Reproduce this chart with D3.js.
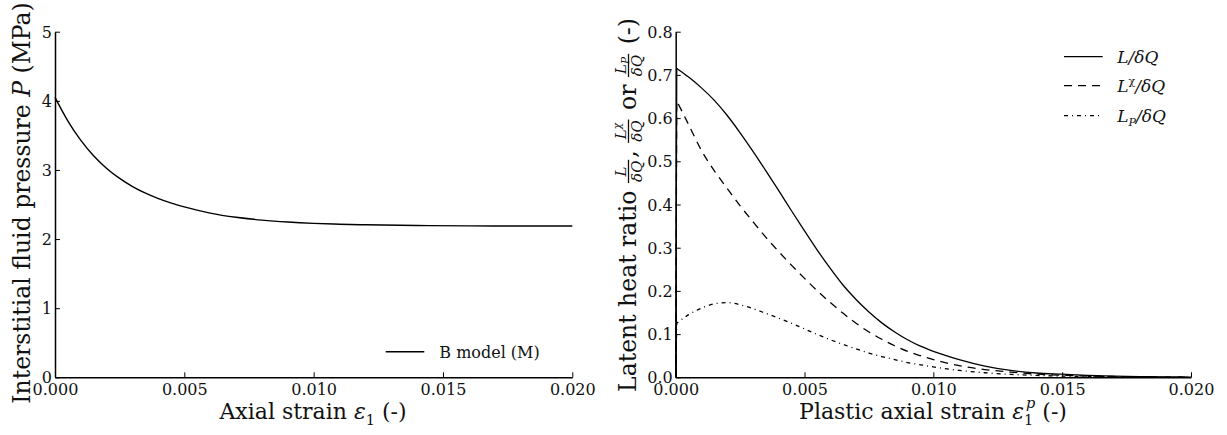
<!DOCTYPE html>
<html><head><meta charset="utf-8">
<script src="https://cdn.jsdelivr.net/npm/d3@7"></script>
<style>body{margin:0;background:#fff} svg{display:block}</style>
</head><body><svg id="c" width="1227" height="435"></svg>
<script>
// ---------- data ----------
const strainP = [0,0.0005,0.001,0.0015,0.002,0.0025,0.003,0.0035,0.004,0.0045,0.005,0.006,0.007,0.008,0.009,0.010,0.011,0.012,0.014,0.016,0.018,0.020];
const pressure = [4.05,3.707,3.427,3.202,3.022,2.877,2.759,2.663,2.584,2.519,2.465,2.376,2.315,2.274,2.246,2.227,2.215,2.206,2.196,2.191,2.189,2.188];

const strainL = [0,0.00004,0.0005,0.001,0.0015,0.002,0.0025,0.003,0.0035,0.004,0.0045,0.005,0.0055,0.006,0.0065,0.007,0.0075,0.008,0.0085,0.009,0.0095,0.010,0.011,0.012,0.013,0.014,0.015,0.016,0.017,0.018,0.019,0.020];
const ratioL   = [0,0.715,0.695,0.670,0.641,0.606,0.566,0.523,0.478,0.432,0.385,0.339,0.294,0.252,0.213,0.180,0.151,0.126,0.105,0.087,0.072,0.060,0.041,0.026,0.016,0.010,0.0072,0.0045,0.0028,0.0017,0.0009,0.0005];
const ratioLchi= [0,0.64,0.585,0.525,0.478,0.437,0.397,0.36,0.324,0.291,0.259,0.229,0.2,0.173,0.148,0.125,0.105,0.088,0.073,0.06,0.05,0.041,0.027,0.018,0.012,0.0075,0.0048,0.003,0.0018,0.0011,0.0006,0.0003];
const ratioLP  = [0,0.125,0.145,0.160,0.170,0.173,0.168,0.159,0.148,0.137,0.125,0.112,0.099,0.087,0.076,0.066,0.056,0.048,0.041,0.034,0.029,0.024,0.016,0.0105,0.0068,0.0044,0.0028,0.0018,0.0011,0.0007,0.0004,0.0002];

const xTicks = [0,0.005,0.010,0.015,0.020];
const pTicks = [0,1,2,3,4,5];
const rTicks = [0,0.1,0.2,0.3,0.4,0.5,0.6,0.7,0.8];
const leftLegend = "B model (M)";

// ---------- setup ----------
const svg = d3.select("#c");
const SERIF = "'DejaVu Serif', serif";
const MATH = "'DejaVu Serif', serif";
const yTopPx = 31.7, yBotPx = 377.3;

function axes(g, x, y, yTicks, yFmt) {
  const ax = g.append("g").attr("transform", `translate(0,${yBotPx})`)
    .call(d3.axisBottom(x).tickValues(xTicks).tickFormat(d3.format(".3f")).tickSizeInner(-5).tickSizeOuter(0));
  const ay = g.append("g").attr("transform", `translate(${x.range()[0]},0)`)
    .call(d3.axisLeft(y).tickValues(yTicks).tickFormat(yFmt).tickSizeInner(-5).tickSizeOuter(0));
  [ax, ay].forEach(a => {
    a.select(".domain").attr("stroke", "#000").attr("stroke-width", 1.5);
    a.selectAll(".tick line").attr("stroke", "#000").attr("stroke-width", 1);
    a.selectAll("text").attr("font-family", SERIF).attr("font-size", 16).attr("fill", "#111");
  });
  ax.selectAll("text").attr("y", 6).attr("dy", "0.71em");
  ay.selectAll("text").attr("x", -3).attr("dy", "0.35em");
}

// layout helper: pieces placed horizontally in group
function rich(g, pieces, baseSize) {
  let cx = 0;
  pieces.forEach(p => {
    if (p.frac) {
      const fs = p.size || 15;
      const num = g.append("text").attr("font-family", MATH).attr("font-style", "italic").attr("font-size", fs).attr("y", -10);
      num.append("tspan").text(p.num);
      if (p.sup) num.append("tspan").attr("font-size", fs*0.7).attr("dy", -5).text(p.sup);
      if (p.sub) num.append("tspan").attr("font-size", fs*0.7).attr("dy", 3).text(p.sub);
      const den = g.append("text").attr("font-family", MATH).attr("font-style", "italic").attr("font-size", fs).attr("y", 6).text(p.den);
      const w = Math.max(num.node().getComputedTextLength(), den.node().getComputedTextLength()) + 2;
      num.attr("x", cx + 1 + (w - 2 - num.node().getComputedTextLength())/2);
      den.attr("x", cx + 1 + (w - 2 - den.node().getComputedTextLength())/2);
      g.append("line").attr("x1", cx).attr("x2", cx + w).attr("y1", -7.5).attr("y2", -7.5).attr("stroke", "#111").attr("stroke-width", 1.3);
      cx += w + 2;
    } else if (p.subsup) {
      const fs = baseSize*0.66;
      const s1 = g.append("text").attr("font-family", MATH).attr("font-size", fs).attr("x", cx).attr("y", 6).text(p.subsup[0]);
      const s2 = g.append("text").attr("font-family", MATH).attr("font-style","italic").attr("font-size", fs).attr("x", cx+2).attr("y", -11).text(p.subsup[1]);
      cx += Math.max(s1.node().getComputedTextLength(), s2.node().getComputedTextLength()+2);
    } else if (p.sub) {
      const fs = baseSize*0.66;
      const s1 = g.append("text").attr("font-family", MATH).attr("font-size", fs).attr("x", cx).attr("y", 6).text(p.sub);
      cx += s1.node().getComputedTextLength();
    } else {
      const t = g.append("text").attr("font-family", p.it ? MATH : SERIF)
        .attr("font-style", p.it ? "italic" : "normal").attr("font-size", p.size || baseSize)
        .attr("x", cx).style("white-space", "pre").text(p.t);
      cx += t.node().getComputedTextLength();
    }
  });
  g.selectAll("text").attr("fill", "#111");
  return cx;
}
function label(parent, pieces, size, cx, cy, rotate) {
  const g = parent.append("g");
  const inner = g.append("g");
  const w = rich(inner, pieces, size);
  inner.attr("transform", `translate(${-w/2},0)`);
  g.attr("transform", `translate(${cx},${cy})` + (rotate ? " rotate(-90)" : ""));
}

// ---------- left panel ----------
const xL = d3.scaleLinear().domain([0, 0.02]).range([55, 572.3]);
const yL = d3.scaleLinear().domain([0, 5]).range([yBotPx, yTopPx]);
const gL = svg.append("g");
gL.append("path").datum(strainP.map((s, i) => [s, pressure[i]]))
  .attr("fill", "none").attr("stroke", "#000").attr("stroke-width", 1.4)
  .attr("d", d3.line().x(d => xL(d[0])).y(d => yL(d[1])).curve(d3.curveMonotoneX));
axes(gL, xL, yL, pTicks, d3.format("d"));
gL.append("line").attr("x1", 385.7).attr("x2", 424.3).attr("y1", 351.7).attr("y2", 351.7).attr("stroke", "#000").attr("stroke-width", 1.4);
gL.append("text").attr("x", 439.3).attr("y", 357.5).attr("font-family", SERIF).attr("font-size", 16).attr("fill", "#111").text(leftLegend);
label(svg, [{t: "Interstitial fluid pressure "}, {t: "P", it: true}, {t: " (MPa)"}], 23.5, 30, 203, true);
label(svg, [{t: "Axial strain "}, {t: "ε", it: true}, {sub: "1"}, {t: " (-)"}], 22, 313, 419, false);

// ---------- right panel ----------
const xR = d3.scaleLinear().domain([0, 0.02]).range([675.7, 1191]);
const yR = d3.scaleLinear().domain([0, 0.8]).range([yBotPx, yTopPx]);
const gR = svg.append("g");
const series = [
  {vals: ratioL, dash: null, name: [{t: "L"}, {t: "/δQ"}]},
  {vals: ratioLchi, dash: "8,6", name: [{t: "L"}, {t: "χ", sup: true}, {t: "/δQ", back: 7}]},
  {vals: ratioLP, dash: "4,4,1,4", name: [{t: "L"}, {t: "P", sub: true}, {t: "/δQ", back: -4}]}
];
const lineLin = d3.line().x(d => xR(d[0])).y(d => yR(d[1]));
const lineSmooth = d3.line().x(d => xR(d[0])).y(d => yR(d[1])).curve(d3.curveMonotoneX);
series.forEach(s => {
  const pts = strainL.map((x, i) => [x, s.vals[i]]);
  // initial jump from zero drawn straight, the rest smooth
  const d = lineLin(pts.slice(0, 2)) + lineSmooth(pts.slice(1)).replace(/^M[^A-Za-z]*/, "");
  gR.append("path")
    .attr("fill", "none").attr("stroke", "#000").attr("stroke-width", 1.3)
    .attr("stroke-dasharray", s.dash).attr("d", d);
});
axes(gR, xR, yR, rTicks, d3.format(".1f"));
const legY = [56.7, 85.7, 115.7];
series.forEach((s, i) => {
  gR.append("line").attr("x1", 1064).attr("x2", 1102.7).attr("y1", legY[i]).attr("y2", legY[i])
    .attr("stroke", "#000").attr("stroke-width", 1.3).attr("stroke-dasharray", s.dash);
  const t = gR.append("text").attr("x", 1117.3).attr("y", legY[i] + 6).attr("font-family", MATH)
    .attr("font-style", "italic").attr("font-size", 17).attr("fill", "#111");
  s.name.forEach(p => {
    const ts = t.append("tspan").text(p.t);
    if (p.sup) ts.attr("font-size", 11).attr("dy", -7).attr("font-style", "normal");
    else if (p.sub) ts.attr("font-size", 11).attr("dy", 4);
    else if (p.back) ts.attr("dy", p.back);
  });
});
label(svg, [{t: "Latent heat ratio "}, {frac: true, num: "L", den: "δQ"}, {t: ", "},
  {frac: true, num: "L", sup: "χ", den: "δQ"}, {t: " or "}, {frac: true, num: "L", sub: "P", den: "δQ"}, {t: " (-)"}],
  23.5, 636, 205, true);
label(svg, [{t: "Plastic axial strain "}, {t: "ε", it: true}, {subsup: ["1", "p"]}, {t: " (-)"}], 22, 933, 419, false);
</script></body></html>
